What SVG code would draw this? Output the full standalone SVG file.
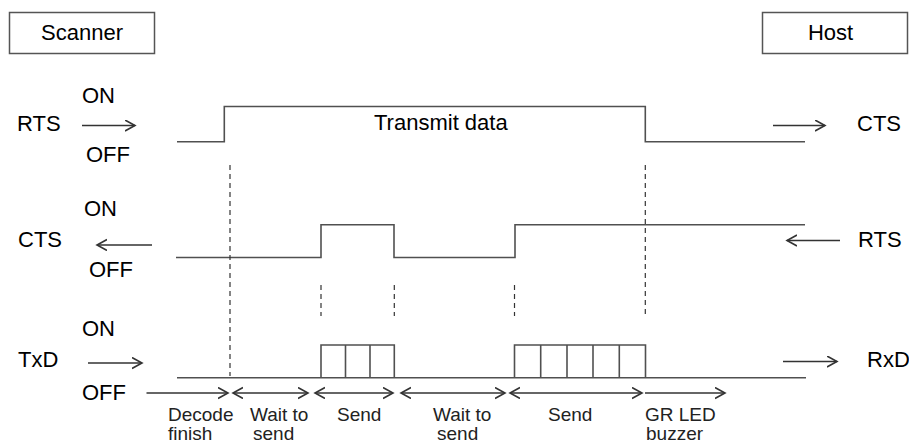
<svg xmlns="http://www.w3.org/2000/svg" width="909" height="443" viewBox="0 0 909 443">
<style>
.box{fill:#fff;stroke:#555;stroke-width:1.5}
.t{font-family:"Liberation Sans",Arial,sans-serif;font-size:22px;fill:#000}
.c{text-anchor:middle}
.s{font-family:"Liberation Sans",Arial,sans-serif;font-size:19px;fill:#222}
.sig{fill:none;stroke:#505050;stroke-width:1.6}
.dash{fill:none;stroke:#333;stroke-width:1.2;stroke-dasharray:5 4}
.arr{fill:none;stroke:#333;stroke-width:1.6}
</style>
<defs>
<marker id="ah" markerUnits="userSpaceOnUse" markerWidth="13" markerHeight="14" refX="10" refY="6" orient="auto-start-reverse">
<path d="M0,0.5 L10,6 L0,11.5" fill="none" stroke="#333" stroke-width="1.6"/>
</marker>
</defs>
<rect width="909" height="443" fill="#fff"/>
<g id="scanner">
<rect class="box" x="9.5" y="12.5" width="145" height="41"/>
<text class="t c" x="82" y="40">Scanner</text>
</g>
<g id="host">
<rect class="box" x="762.5" y="12.5" width="145" height="41"/>
<text class="t c" x="830.5" y="40">Host</text>
</g>
<g id="rts">
<text class="t" x="82" y="103">ON</text>
<text class="t" x="17" y="131">RTS</text>
<text class="t" x="86" y="162">OFF</text>
<polyline class="sig" points="177,141.7 224.3,141.7 224.3,106.5 645.3,106.5 645.3,141.7 805,141.7"/>
<text class="t" x="374" y="130">Transmit data</text>
<text class="t" x="857" y="131">CTS</text>
</g>
<g id="cts">
<text class="t" x="84" y="216">ON</text>
<text class="t" x="18" y="247">CTS</text>
<text class="t" x="89" y="277">OFF</text>
<polyline class="sig" points="176,257.5 321,257.5 321,224.7 394,224.7 394,257.5 515,257.5 515,224.7 805,224.7"/>
<text class="t" x="858" y="247">RTS</text>
</g>
<g id="txd">
<text class="t" x="82" y="336">ON</text>
<text class="t" x="18" y="367">TxD</text>
<text class="t" x="82" y="400">OFF</text>
<line class="sig" x1="177" y1="377.7" x2="806" y2="377.7"/>
<path class="sig" d="M321,377.7 V345 H394.3 V377.7 M345.5,345 V377.7 M370,345 V377.7"/>
<path class="sig" d="M514.5,377.7 V345 H645.5 V377.7 M540.7,345 V377.7 M567,345 V377.7 M593,345 V377.7 M619.3,345 V377.7"/>
<text class="t" x="867" y="367">RxD</text>
</g>
<g id="phases">
<text class="s" x="168" y="421">Decode</text>
<text class="s" x="168" y="440">finish</text>
<text class="s" x="250" y="421">Wait to</text>
<text class="s" x="253" y="440">send</text>
<text class="s" x="337" y="421">Send</text>
<text class="s" x="433" y="421">Wait to</text>
<text class="s" x="437" y="440">send</text>
<text class="s" x="548" y="421">Send</text>
<text class="s" x="645" y="421">GR LED</text>
<text class="s" x="646" y="440">buzzer</text>
</g>
<g id="connectors">
<line class="dash" x1="230" y1="165" x2="230" y2="376"/>
<line class="dash" x1="645.3" y1="165" x2="645.3" y2="316"/>
<line class="dash" x1="321" y1="285" x2="321" y2="316"/>
<line class="dash" x1="394.3" y1="285" x2="394.3" y2="316"/>
<line class="dash" x1="514.5" y1="285" x2="514.5" y2="316"/>
<line class="arr" x1="82" y1="125.5" x2="135" y2="125.5" marker-end="url(#ah)"/>
<line class="arr" x1="773" y1="125.5" x2="825" y2="125.5" marker-end="url(#ah)"/>
<line class="arr" x1="152" y1="245" x2="97" y2="245" marker-end="url(#ah)"/>
<line class="arr" x1="840" y1="240.5" x2="787" y2="240.5" marker-end="url(#ah)"/>
<line class="arr" x1="88" y1="363" x2="142" y2="363" marker-end="url(#ah)"/>
<line class="arr" x1="783" y1="361.5" x2="837" y2="361.5" marker-end="url(#ah)"/>
<line class="arr" x1="146.5" y1="393" x2="228" y2="393" marker-end="url(#ah)"/>
<line class="arr" x1="233" y1="393" x2="308" y2="393" marker-start="url(#ah)" marker-end="url(#ah)"/>
<line class="arr" x1="315" y1="393" x2="393" y2="393" marker-start="url(#ah)" marker-end="url(#ah)"/>
<line class="arr" x1="401" y1="393" x2="505" y2="393" marker-start="url(#ah)" marker-end="url(#ah)"/>
<line class="arr" x1="510" y1="393" x2="642" y2="393" marker-start="url(#ah)" marker-end="url(#ah)"/>
<line class="arr" x1="645" y1="393" x2="725" y2="393" marker-end="url(#ah)"/>
</g>
</svg>
